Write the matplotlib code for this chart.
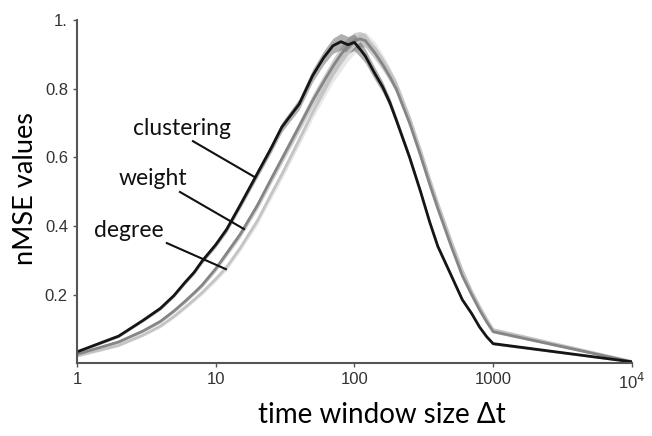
import numpy as np
import matplotlib.pyplot as plt

# time window sizes (log axis)
dt = [1, 2, 3, 4, 5, 6, 7, 8, 10, 12, 15, 20, 25, 30, 40, 50, 60, 70, 80, 90,
      100, 110, 120, 140, 160, 180, 200, 250, 300, 350, 400, 500, 600, 700,
      800, 900, 1000, 10000]

clustering = [0.033, 0.079, 0.125, 0.160, 0.197, 0.235, 0.265, 0.298, 0.345,
              0.390, 0.460, 0.553, 0.625, 0.688, 0.755, 0.838, 0.890, 0.925,
              0.937, 0.928, 0.935, 0.915, 0.895, 0.845, 0.805, 0.760, 0.710,
              0.600, 0.500, 0.410, 0.340, 0.255, 0.185, 0.145, 0.105, 0.077,
              0.057, 0.004]

weight = [0.026, 0.062, 0.094, 0.122, 0.152, 0.180, 0.205, 0.228, 0.275,
          0.320, 0.375, 0.460, 0.535, 0.595, 0.690, 0.765, 0.820, 0.865,
          0.900, 0.925, 0.940, 0.945, 0.940, 0.905, 0.870, 0.835, 0.800,
          0.700, 0.605, 0.520, 0.450, 0.340, 0.255, 0.200, 0.155, 0.120,
          0.092, 0.004]

degree = [0.021, 0.052, 0.082, 0.108, 0.136, 0.162, 0.185, 0.206, 0.245,
          0.280, 0.335, 0.415, 0.490, 0.550, 0.650, 0.730, 0.790, 0.840,
          0.875, 0.905, 0.925, 0.940, 0.945, 0.920, 0.885, 0.850, 0.815,
          0.715, 0.620, 0.535, 0.465, 0.355, 0.270, 0.210, 0.165, 0.128,
          0.098, 0.005]

# half width of the shaded spread around each curve
spread = [0.003, 0.004, 0.004, 0.005, 0.005, 0.006, 0.006, 0.007, 0.008,
          0.009, 0.010, 0.012, 0.013, 0.014, 0.016, 0.018, 0.020, 0.022,
          0.024, 0.024, 0.024, 0.022, 0.020, 0.018, 0.016, 0.014, 0.012,
          0.010, 0.009, 0.008, 0.007, 0.006, 0.005, 0.005, 0.004, 0.004,
          0.004, 0.002]

x_ticks = [1, 10, 100, 1000, 10000]
x_ticklabels = ['1', '10', '100', '1000', r'10$^4$']
y_ticks = [0.2, 0.4, 0.6, 0.8, 1.0]
y_ticklabels = ['0.2', '0.4', '0.6', '0.8', '1.']

fig = plt.figure(figsize=(6.52, 4.36), dpi=100)
ax = fig.add_axes([0.118, 0.167, 0.851, 0.787])

dt = np.array(dt)
sp = np.array(spread)
series = [(degree, '#c4c4c4', '#d2d2d2'),
          (weight, '#858585', '#a0a0a0'),
          (clustering, '#151515', '#606060')]
for vals, col, band in series:
    v = np.array(vals)
    ax.fill_between(dt, v - sp, v + sp, color=band, alpha=0.5, lw=0)
    ax.plot(dt, v, color=col, lw=2.0)

ax.set_xscale('log')
ax.set_xlim(1, 10000)
ax.set_ylim(0, 1.0)
ax.set_xticks(x_ticks)
ax.set_xticklabels(x_ticklabels)
ax.set_xticks([], minor=True)
ax.set_yticks(y_ticks)
ax.set_yticklabels(y_ticklabels)

for s in ['top', 'right']:
    ax.spines[s].set_visible(False)
for s in ['left', 'bottom']:
    ax.spines[s].set_color('#555555')
    ax.spines[s].set_linewidth(1.5)
ax.tick_params(direction='out', length=3, width=1, color='#555555',
               labelsize=12, labelcolor='#333333')
for lab in ax.get_xticklabels() + ax.get_yticklabels():
    lab.set_family(['Liberation Sans', 'DejaVu Sans'])

font = ['Lato', 'DejaVu Sans']
ax.set_xlabel('time window size Δt', fontsize=20, family=font)
ax.set_ylabel('nMSE values', fontsize=19.5, family=font)
ax.xaxis.set_label_coords(0.55, -0.15)
ax.xaxis.label.set_va('center')
ax.yaxis.set_label_coords(-0.093, 0.51)
ax.yaxis.label.set_va('center')
ax.yaxis.label.set_ha('center')

# labels with pointer lines
notes = [('clustering', (5.68, 0.685), (6.86, 0.647), (19.2, 0.542)),
         ('weight', (3.53, 0.539), (5.53, 0.499), (16.0, 0.391)),
         ('degree', (2.37, 0.388), (4.45, 0.350), (11.86, 0.274))]
for txt, tpos, p0, p1 in notes:
    ax.text(tpos[0], tpos[1], txt, fontsize=16.5, family=font,
            ha='center', va='center', color='#111111')
    ax.plot([p0[0], p1[0]], [p0[1], p1[1]], color='#111111', lw=1.5)

fig.savefig('out.png', dpi=100)
